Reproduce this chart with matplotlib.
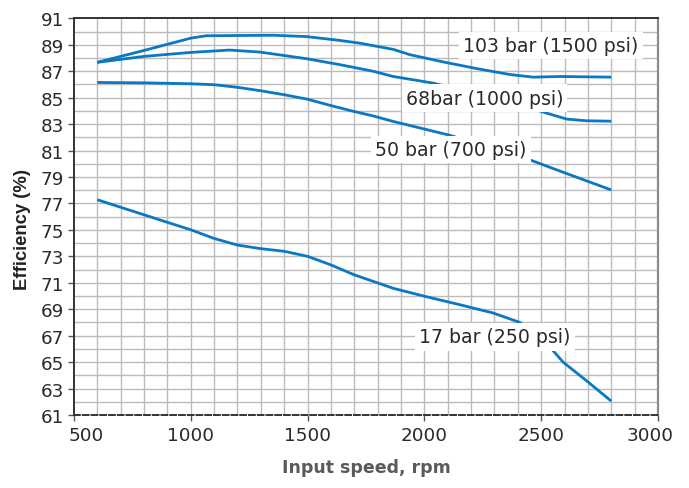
import matplotlib
matplotlib.use("Agg")
import matplotlib.pyplot as plt
from matplotlib.transforms import ScaledTranslation

# Pump efficiency versus input speed at four pressure levels
speed_103 = [600, 800, 1000, 1066, 1209, 1352, 1494, 1637, 1724, 1867, 1938, 2081, 2223, 2366, 2466, 2580, 2800]
eff_103 = [87.67, 88.57, 89.5, 89.68, 89.7, 89.72, 89.62, 89.33, 89.12, 88.65, 88.25, 87.7, 87.2, 86.75, 86.55, 86.6, 86.55]

speed_68 = [600, 800, 1000, 1166, 1295, 1494, 1637, 1780, 1867, 2038, 2451, 2523, 2609, 2694, 2800]
eff_68 = [87.67, 88.12, 88.42, 88.6, 88.45, 87.95, 87.5, 87.0, 86.6, 86.1, 84.25, 83.83, 83.38, 83.25, 83.22]

speed_50 = [600, 800, 1000, 1100, 1200, 1300, 1400, 1500, 1600, 1700, 1780, 1867, 2110, 2451, 2580, 2800]
eff_50 = [86.15, 86.12, 86.05, 85.98, 85.78, 85.52, 85.22, 84.88, 84.4, 83.95, 83.62, 83.2, 82.15, 80.3, 79.45, 78.02]

speed_17 = [600, 800, 900, 1000, 1100, 1200, 1300, 1400, 1500, 1600, 1700, 1867, 2010, 2152, 2295, 2409, 2545, 2595, 2694, 2800]
eff_17 = [77.28, 76.14, 75.57, 75.01, 74.35, 73.85, 73.58, 73.38, 73.0, 72.35, 71.6, 70.58, 69.94, 69.34, 68.71, 68.0, 65.98, 64.98, 63.59, 62.05]

curve_labels = ["103 bar (1500 psi)", "68bar (1000 psi)", "50 bar (700 psi)", "17 bar (250 psi)"]
label_speed = [2541, 2257, 2113, 2302]
label_eff = [88.93, 84.97, 81.1, 66.9]

x_ticks = [500, 1000, 1500, 2000, 2500, 3000]
y_ticks = list(range(61, 92, 2))

blue = "#0a78c2"
grid_col = "#bcbcbc"
dark = "#2a2a2a"

fig = plt.figure(figsize=(6.89, 4.89), dpi=100)
ax = fig.add_axes([0.1073, 0.1493, 0.8477, 0.8112])
ax.set_xlim(500, 3000)
ax.set_ylim(61, 91)

# fine grid: every 100 rpm and every 1 %
for xv in range(600, 3000, 100):
    ax.axvline(xv, color=grid_col, lw=1.0, zorder=1)
for yv in range(62, 91):
    ax.axhline(yv, color=grid_col, lw=1.0, zorder=1)

for sx, sy in [(speed_103, eff_103), (speed_68, eff_68), (speed_50, eff_50), (speed_17, eff_17)]:
    ax.plot(sx, sy, color=blue, lw=2.0, solid_capstyle="butt", zorder=3)

for txt, lx, ly in zip(curve_labels, label_speed, label_eff):
    ax.text(lx, ly, txt, ha="center", va="center", fontsize=13.6, color=dark,
            family="DejaVu Sans", zorder=4,
            bbox=dict(boxstyle="square,pad=0.22", fc="white", ec="none"))

ax.set_xticks(x_ticks)
ax.set_yticks(y_ticks)
ax.tick_params(axis="both", direction="out", length=4, width=1.0, color="#555555",
               labelsize=13.2, labelcolor=dark, pad=4)
ax.tick_params(axis="y", pad=3)

for side in ["left", "top"]:
    ax.spines[side].set_color("#333333")
    ax.spines[side].set_linewidth(1.4)
ax.spines["right"].set_color("#8a8a8a")
ax.spines["right"].set_linewidth(1.6)
ax.spines["bottom"].set_color("#333333")
ax.spines["bottom"].set_linewidth(1.4)
ax.spines["bottom"].set_linestyle((0, (3, 1.5)))

ax.set_xlabel("Input speed, rpm", fontsize=12.5, fontweight="bold", color="#5a5a5a",
              family=["Liberation Sans Narrow", "DejaVu Sans"])
ax.xaxis.set_label_coords(0.5, -0.108)
ax.set_ylabel("Efficiency (%)", fontsize=13.3, fontweight="bold", color="#222222",
              family=["Liberation Sans", "DejaVu Sans"])
ax.yaxis.set_label_coords(-0.074, 0.471)

# nudge the end tick labels inward
xlabels = ax.get_xticklabels()
xlabels[0].set_transform(xlabels[0].get_transform() + ScaledTranslation(0.12, 0, fig.dpi_scale_trans))
xlabels[-1].set_transform(xlabels[-1].get_transform() + ScaledTranslation(-0.08, 0, fig.dpi_scale_trans))

fig.savefig("out.png", dpi=100, facecolor="white")
